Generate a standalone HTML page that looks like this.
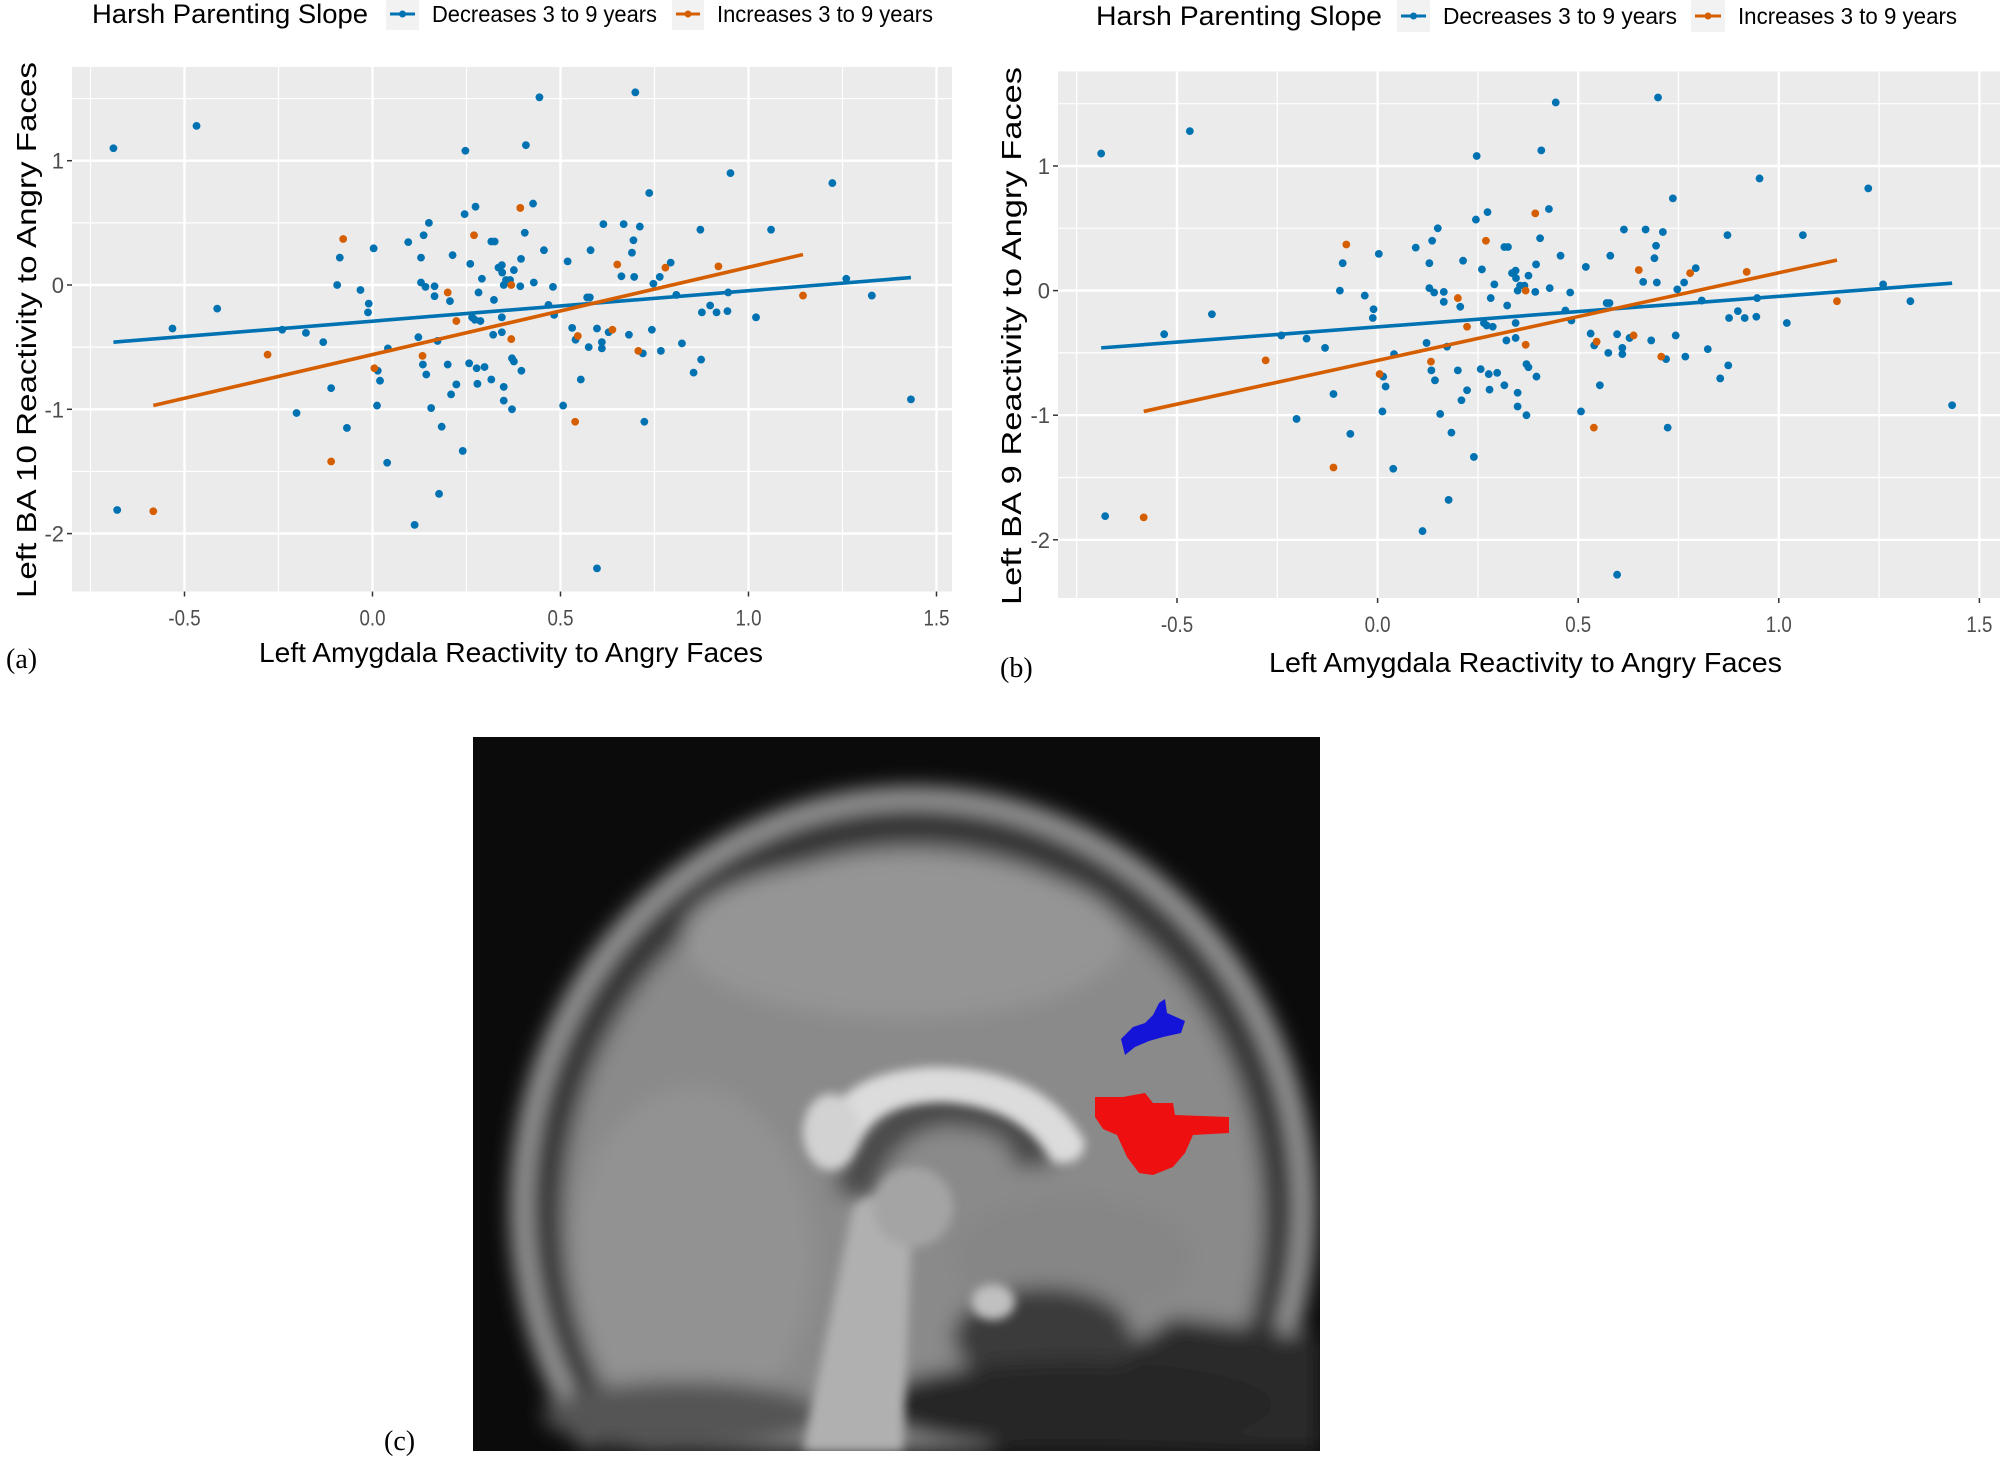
<!DOCTYPE html>
<html><head><meta charset="utf-8"><style>
html,body{margin:0;padding:0;background:#fff;width:2008px;height:1462px;overflow:hidden}
svg{display:block;font-family:"Liberation Sans",Arial,sans-serif}
</style></head><body>
<svg id="root" width="2008" height="1462" viewBox="0 0 2008 1462">
<defs>
<filter id="bl" x="-20%" y="-20%" width="140%" height="140%"><feGaussianBlur stdDeviation="10"/></filter>
<filter id="bl2" x="-20%" y="-20%" width="140%" height="140%"><feGaussianBlur stdDeviation="5"/></filter>
<clipPath id="brainclip"><rect x="0" y="0" width="847" height="714"/></clipPath>
</defs>
<g id="panelA"></g>
<g id="panelB"></g>
<text x="6" y="668" font-family="Liberation Serif,serif" font-size="28" fill="#000">(a)</text>
<text x="1000" y="677" font-family="Liberation Serif,serif" font-size="28" fill="#000">(b)</text>
<text x="384" y="1450" font-family="Liberation Serif,serif" font-size="28" fill="#000">(c)</text>
<g transform="translate(473,737)" clip-path="url(#brainclip)">
<rect x="0" y="0" width="847" height="714" fill="#0b0b0b"/>
<g filter="url(#bl)">
<path d="M114 714 A400 420 0 1 1 766 714 Z" fill="#2a2a2a"/>
<path d="M118 704 A392 410 0 1 1 762 704" fill="none" stroke="#a0a0a0" stroke-width="20"/>
<path d="M154 714 A365 385 0 1 1 726 714 Z" fill="#3a3a3a"/>
<path d="M169 714 A350 370 0 1 1 711 714 Z" fill="#8a8a8a"/>
<ellipse cx="430" cy="200" rx="220" ry="80" fill="#959595"/>
<ellipse cx="220" cy="520" rx="120" ry="170" fill="#929292"/>
<ellipse cx="600" cy="520" rx="120" ry="60" fill="#868686"/>
<path d="M380 460 Q400 380 470 370 Q560 372 560 430" fill="none" stroke="#4a4a4a" stroke-width="40"/>
<path d="M700 580 Q650 620 560 640 Q500 700 520 714 L847 714 L847 600 Z" fill="#2c2c2c"/>
<ellipse cx="570" cy="600" rx="90" ry="50" fill="#3a3a3a"/>
<ellipse cx="600" cy="668" rx="200" ry="44" fill="#262626"/>
<ellipse cx="210" cy="678" rx="140" ry="34" fill="#555"/>
</g>
<g filter="url(#bl2)">
<path d="M350 400 Q360 335 460 330 Q570 330 612 405 Q610 430 580 425 Q550 370 470 365 Q400 365 385 410 Z" fill="#dcdcdc"/>
<ellipse cx="358" cy="395" rx="28" ry="38" fill="#d2d2d2"/>
<path d="M380 470 Q400 450 440 460 L430 714 L330 714 Z" fill="#b0b0b0"/>
<ellipse cx="520" cy="565" rx="22" ry="18" fill="#c0c0c0"/>
<ellipse cx="440" cy="470" rx="40" ry="40" fill="#a4a4a4"/>
</g>
<path d="M648 302 L660 290 L672 286 L680 278 L686 266 L692 262 L694 276 L712 284 L708 296 L690 300 L676 304 L662 310 L652 318 Z" fill="#1414d8"/>
<path d="M622 380 L622 360 L650 360 L672 356 L680 366 L700 366 L702 378 L756 380 L756 396 L720 398 L712 416 L700 430 L680 438 L666 436 L654 420 L644 398 L630 392 Z" fill="#ee1010"/>
</g>
</svg>
<script>
// Shared data (both panels show the same participants)
const blueX = [-0.689,-0.468,-0.679,-0.532,-0.413,-0.24,-0.177,-0.202,-0.131,-0.11,-0.094,-0.087,-0.068,-0.032,-0.01,-0.012,0.003,0.012,0.014,0.02,0.041,0.039,0.095,0.122,0.129,0.136,0.15,0.129,0.141,0.134,0.143,0.156,0.165,0.165,0.173,0.177,0.184,0.112,0.2,0.209,0.213,0.206,0.223,0.245,0.247,0.24,0.26,0.274,0.257,0.265,0.277,0.279,0.291,0.282,0.272,0.287,0.298,0.316,0.325,0.323,0.316,0.321,0.335,0.344,0.349,0.345,0.355,0.344,0.344,0.349,0.349,0.366,0.371,0.371,0.376,0.376,0.395,0.393,0.396,0.405,0.408,0.427,0.429,0.444,0.456,0.468,0.48,0.483,0.507,0.519,0.531,0.54,0.554,0.571,0.578,0.58,0.575,0.597,0.597,0.61,0.61,0.614,0.628,0.662,0.668,0.682,0.69,0.694,0.699,0.696,0.711,0.719,0.723,0.736,0.743,0.747,0.764,0.767,0.793,0.808,0.823,0.854,0.872,0.876,0.874,0.898,0.915,0.944,0.946,0.952,1.02,1.06,1.223,1.26,1.328,1.432];
const blueY = [1.10,1.28,-1.81,-0.35,-0.19,-0.36,-0.385,-1.03,-0.46,-0.83,0.0,0.22,-1.15,-0.04,-0.15,-0.22,0.295,-0.97,-0.69,-0.77,-0.51,-1.43,0.345,-0.42,0.22,0.40,0.50,0.02,-0.015,-0.64,-0.72,-0.99,-0.01,-0.09,-0.45,-1.68,-1.14,-1.93,-0.64,-0.88,0.24,-0.13,-0.80,0.57,1.08,-1.335,0.17,0.63,-0.63,-0.26,-0.67,-0.795,0.05,-0.06,-0.28,-0.29,-0.66,0.35,0.35,-0.12,-0.76,-0.40,0.14,0.16,0.0,0.10,0.04,-0.38,-0.26,-0.82,-0.93,0.04,-0.59,-1.0,0.12,-0.615,0.21,-0.01,-0.69,0.42,1.125,0.655,0.02,1.51,0.28,-0.16,-0.015,-0.24,-0.97,0.19,-0.345,-0.44,-0.76,-0.10,-0.10,0.28,-0.50,-0.35,-2.28,-0.46,-0.51,0.49,-0.38,0.07,0.49,-0.40,0.26,0.36,1.55,0.065,0.47,-0.55,-1.10,0.74,-0.36,0.01,0.065,-0.53,0.18,-0.08,-0.47,-0.705,0.445,-0.22,-0.6,-0.165,-0.22,-0.21,-0.06,0.90,-0.26,0.445,0.82,0.05,-0.085,-0.92];
const orangeX = [-0.583,-0.279,-0.11,-0.078,0.005,0.133,0.2,0.223,0.27,0.369,0.369,0.393,0.539,0.546,0.638,0.651,0.707,0.779,0.92,1.145];
const orangeY = [-1.82,-0.56,-1.42,0.37,-0.67,-0.57,-0.06,-0.29,0.40,0.0,-0.435,0.62,-1.10,-0.41,-0.36,0.165,-0.53,0.14,0.15,-0.085];
// Fitted lines: [x start, x end], slope, intercept
const blueFitRange = [-0.689, 1.432];
const blueFitCoef = [0.245, -0.291];
const orangeFitRange = [-0.583, 1.145];
const orangeFitCoef = [0.703, -0.56];
const xTicks = [-0.5, 0.0, 0.5, 1.0, 1.5];
const xTickLabels = ["-0.5","0.0","0.5","1.0","1.5"];
const xMinor = [-0.75,-0.25,0.25,0.75,1.25];
const yTicks = [-2, -1, 0, 1];
const yTickLabels = ["-2","-1","0","1"];
const yMinor = [-1.5,-0.5,0.5,1.5];

const NS = "http://www.w3.org/2000/svg";
const BLUE = "#0072B2", ORANGE = "#D55E00";
function mk(parent, tag, attrs, text){
  const e = document.createElementNS(NS, tag);
  for (const k in attrs) e.setAttribute(k, attrs[k]);
  if (text !== undefined) e.textContent = text;
  parent.appendChild(e);
  return e;
}
function drawPanel(g, cfg){
  const sx = v => cfg.x0 + v * cfg.xs;
  const sy = v => cfg.y0 - v * cfg.ys;
  const bg = mk(g, "rect", {x:cfg.L, y:cfg.T, width:cfg.R-cfg.L, height:cfg.B-cfg.T, fill:"#EBEBEB"});
  
  
  xMinor.forEach(v => { const l = mk(g,"line",{x1:sx(v),x2:sx(v),y1:cfg.T,y2:cfg.B,stroke:"#fff","stroke-width":1.2});
    
     });
  yMinor.forEach(v => { const l = mk(g,"line",{x1:cfg.L,x2:cfg.R,y1:sy(v),y2:sy(v),stroke:"#fff","stroke-width":1.2});
    
     });
  xTicks.forEach((v,i) => {
    const l = mk(g,"line",{x1:sx(v),x2:sx(v),y1:cfg.T,y2:cfg.B,stroke:"#fff","stroke-width":2.4});
    
    
    mk(g,"line",{x1:sx(v),x2:sx(v),y1:cfg.B,y2:cfg.B+5,stroke:"#333","stroke-width":1.5});
    const t = mk(g,"text",{x:sx(v),y:cfg.B+34,"text-anchor":"middle","font-size":22,fill:"#4d4d4d",transform:`translate(${sx(v)},0) scale(0.85,1) translate(${-sx(v)},0)`}, xTickLabels[i]);
    
    
  });
  yTicks.forEach((v,i) => {
    const l = mk(g,"line",{x1:cfg.L,x2:cfg.R,y1:sy(v),y2:sy(v),stroke:"#fff","stroke-width":2.4});
    
    
    mk(g,"line",{x1:cfg.L-5,x2:cfg.L,y1:sy(v),y2:sy(v),stroke:"#333","stroke-width":1.5});
    const t = mk(g,"text",{x:cfg.L-8,y:sy(v)+8,"text-anchor":"end","font-size":22,fill:"#4d4d4d"}, yTickLabels[i]);
    
    
  });
  blueX.forEach((x,i) => { const c = mk(g,"circle",{cx:sx(x),cy:sy(blueY[i]),r:3.9,fill:BLUE});
    
     });
  orangeX.forEach((x,i) => { const c = mk(g,"circle",{cx:sx(x),cy:sy(orangeY[i]),r:3.9,fill:ORANGE});
    
     });
  const bl = mk(g,"line",{x1:sx(blueFitRange[0]),y1:sy(blueFitCoef[0]*blueFitRange[0]+blueFitCoef[1]),x2:sx(blueFitRange[1]),y2:sy(blueFitCoef[0]*blueFitRange[1]+blueFitCoef[1]),stroke:BLUE,"stroke-width":3.6});
  
  
  const ol = mk(g,"line",{x1:sx(orangeFitRange[0]),y1:sy(orangeFitCoef[0]*orangeFitRange[0]+orangeFitCoef[1]),x2:sx(orangeFitRange[1]),y2:sy(orangeFitCoef[0]*orangeFitRange[1]+orangeFitCoef[1]),stroke:ORANGE,"stroke-width":3.6});
  
  
  const xt = mk(g,"text",{x:cfg.xtX, y:cfg.xtY, "font-size":28, fill:"#000", textLength:cfg.xtW, lengthAdjust:"spacingAndGlyphs"}, "Left Amygdala Reactivity to Angry Faces");
  
  
  const yt = mk(g,"text",{x:0,y:0,"font-size":28,fill:"#000",textLength:cfg.ytW,lengthAdjust:"spacingAndGlyphs",transform:`translate(${cfg.ytX},${cfg.ytB}) rotate(-90)`}, cfg.ytitle);
  
  
  const lg = mk(g,"g",{});
  
  
  const tt = mk(lg,"text",{x:cfg.lg[0],y:cfg.ly+9,"font-size":27,fill:"#000",textLength:cfg.lg[1]-cfg.lg[0],lengthAdjust:"spacingAndGlyphs"},"Harsh Parenting Slope");
  
  
  [[cfg.lg[2],cfg.lg[3],cfg.lg[4],BLUE,"Decreases 3 to 9 years","legend-entry-decreases"],[cfg.lg[5],cfg.lg[6],cfg.lg[7],ORANGE,"Increases 3 to 9 years","legend-entry-increases"]].forEach(e => {
    const eg = mk(lg,"g",{});
    
    
    mk(eg,"rect",{x:e[0],y:cfg.ly-16,width:e[1]-e[0],height:32,fill:"#F2F2F2"});
    mk(eg,"line",{x1:e[0]+4,x2:e[1]-4,y1:cfg.ly,y2:cfg.ly,stroke:e[3],"stroke-width":3});
    mk(eg,"circle",{cx:(e[0]+e[1])/2,cy:cfg.ly,r:3.5,fill:e[3]});
    mk(eg,"text",{x:e[1]+13,y:cfg.ly+8,"font-size":23,fill:"#000",textLength:e[2]-e[1]-13,lengthAdjust:"spacingAndGlyphs"},e[4]);
  });
}
drawPanel(document.getElementById("panelA"), {L:72,R:952,T:67,B:591.5,x0:372.5,xs:376,y0:285,ys:124.3,
  xtX:259,xtY:662,xtW:504,ytX:36,ytB:598,ytW:536,ytitle:"Left BA 10 Reactivity to Angry Faces",
  ly:14,lg:[92,368,386,419,657,672,704,933]});
drawPanel(document.getElementById("panelB"), {L:1058,R:2000,T:71.4,B:598,x0:1377.6,xs:401.2,y0:290.6,ys:124.6,
  xtX:1269,xtY:672,xtW:513,ytX:1021,ytB:605,ytW:538,ytitle:"Left BA 9 Reactivity to Angry Faces",
  ly:16,lg:[1096,1382,1397,1430,1677,1691,1725,1957]});
</script>
</body></html>
